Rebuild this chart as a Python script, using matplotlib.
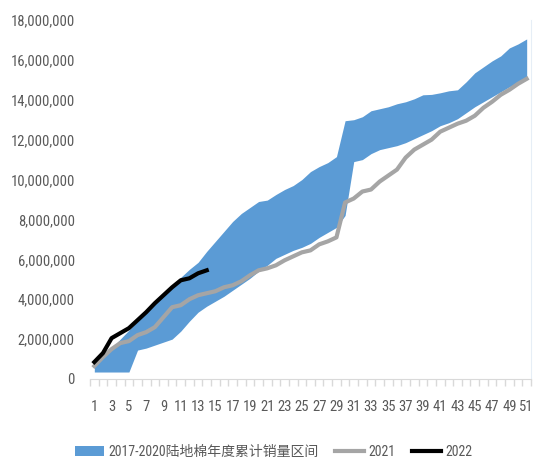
import numpy as np
import matplotlib.pyplot as plt
from matplotlib import font_manager
from matplotlib.ticker import FuncFormatter, MultipleLocator
from matplotlib.patches import Patch
from matplotlib.lines import Line2D

# narrow latin font if there is one, CJK fallback for the legend
installed = {f.name for f in font_manager.fontManager.ttflist}
narrow = [n for n in ['Liberation Sans Narrow', 'DejaVu Sans Condensed', 'Roboto Condensed']
          if n in installed]
if narrow:
    latin, fsize = narrow[0], 10.5
else:
    latin, fsize = 'Liberation Sans', 9
plt.rcParams['font.family'] = [latin, 'Noto Sans CJK SC', 'DejaVu Sans']

weeks = np.arange(1, 52)

# 2017-2020 range (lower / upper edge of the band)
band_low = [350000, 350000, 350000, 350000, 350000, 1450000, 1550000, 1700000, 1850000, 2000000,
            2400000, 2900000, 3350000, 3650000, 3900000, 4150000, 4450000, 4750000, 5050000, 5400000,
            5700000, 6050000, 6250000, 6450000, 6600000, 6800000, 7100000, 7350000, 7600000, 8200000,
            10900000, 11000000, 11300000, 11500000, 11600000, 11700000, 11850000, 12050000, 12250000, 12450000,
            12700000, 12850000, 13050000, 13350000, 13650000, 13900000, 14150000, 14400000, 14650000, 14850000,
            15000000]
band_high = [650000, 1100000, 1550000, 2000000, 2450000, 2900000, 3300000, 3750000, 4200000, 4700000,
             5100000, 5500000, 5850000, 6400000, 6900000, 7400000, 7900000, 8300000, 8600000, 8900000,
             8970000, 9250000, 9500000, 9700000, 10000000, 10400000, 10650000, 10850000, 11150000, 12950000,
             13000000, 13150000, 13450000, 13550000, 13650000, 13800000, 13900000, 14050000, 14250000, 14270000,
             14350000, 14450000, 14500000, 14900000, 15350000, 15650000, 15950000, 16200000, 16600000, 16800000,
             17050000]

sales_2021 = [650000, 1100000, 1500000, 1800000, 1900000, 2200000, 2350000, 2600000, 3100000, 3600000,
              3700000, 4000000, 4200000, 4300000, 4400000, 4600000, 4700000, 4900000, 5200000, 5450000,
              5550000, 5700000, 5950000, 6150000, 6350000, 6450000, 6750000, 6900000, 7100000, 8850000,
              9050000, 9400000, 9500000, 9900000, 10200000, 10500000, 11100000, 11500000, 11750000, 12000000,
              12400000, 12600000, 12800000, 12950000, 13200000, 13600000, 13900000, 14250000, 14500000, 14800000,
              15050000]

weeks_2022 = np.arange(1, 15)
sales_2022 = [850000, 1300000, 2050000, 2300000, 2550000, 2950000, 3350000, 3800000, 4200000, 4600000,
              4950000, 5050000, 5300000, 5450000]

blue = '#5B9BD5'
gray = '#A5A5A5'
label_color = '#595959'

fig = plt.figure(figsize=(5.4, 4.59), dpi=100)
ax = fig.add_axes([90 / 540, 1 - 379 / 459, 441 / 540, 359 / 459])

ax.fill_between(weeks, band_low, band_high, color=blue, linewidth=0)
ax.plot(weeks, sales_2021, color=gray, linewidth=3)
ax.plot(weeks_2022, sales_2022, color='black', linewidth=3)

ax.set_xlim(0.5, 51.5)
ax.set_ylim(0, 18000000)

ax.set_xticks(np.arange(1, 52, 2))
ax.xaxis.set_minor_locator(MultipleLocator(1, offset=0.5))
ax.tick_params(axis='x', which='major', length=0, pad=15, labelsize=fsize, labelcolor=label_color)
ax.tick_params(axis='x', which='minor', length=5, color='#D9D9D9', width=1)

ax.yaxis.set_major_locator(MultipleLocator(2000000))
ax.yaxis.set_major_formatter(FuncFormatter(lambda v, p: f'{int(v):,}'))
ax.tick_params(axis='y', length=0, pad=11, labelsize=fsize, labelcolor=label_color)

for side in ['top', 'left']:
    ax.spines[side].set_visible(False)
ax.spines['bottom'].set_color('#D9D9D9')
ax.spines['right'].set_color('#E6EEF6')
ax.spines['right'].set_linewidth(0.8)

handles = [Patch(facecolor=blue, edgecolor='none'),
           Line2D([0], [0], color=gray, linewidth=3),
           Line2D([0], [0], color='black', linewidth=3)]
labels = ['2017-2020陆地棉年度累计销量区间', '2021', '2022']
fig.legend(handles, labels, loc='center', bbox_to_anchor=(0.507, 1 - 452 / 459), ncol=3,
           frameon=False, fontsize=fsize - 0.5, labelcolor=label_color, handlelength=2.1,
           handletextpad=0.3, columnspacing=1.2)

fig.savefig('out.png', dpi=100)
